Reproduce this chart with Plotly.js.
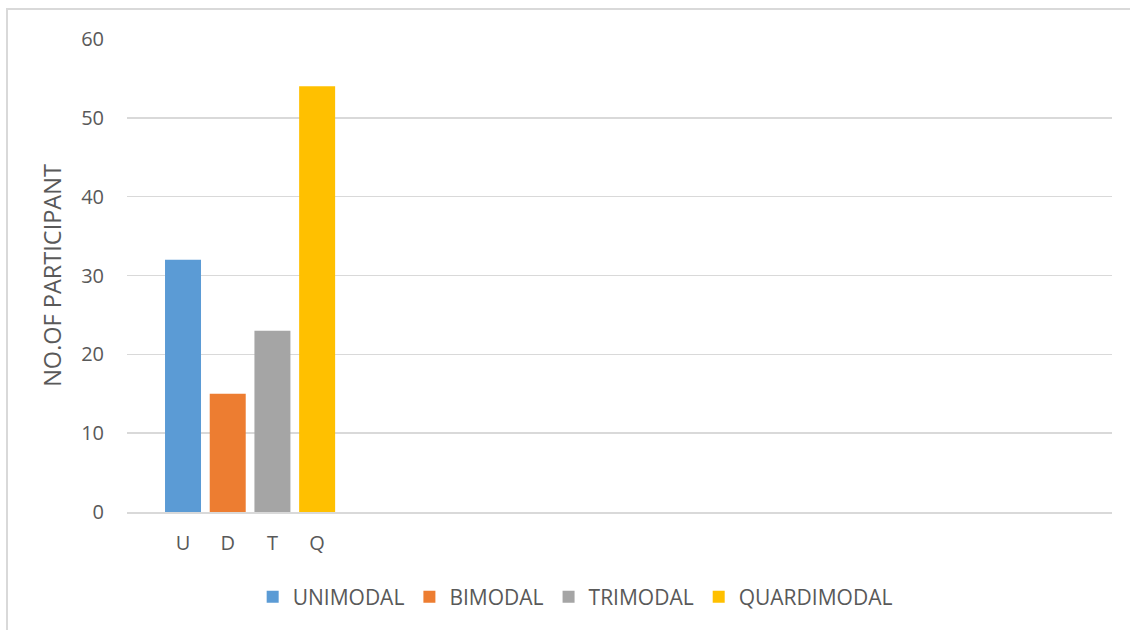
<!DOCTYPE html>
<html>
<head>
<meta charset="utf-8">
<script src="https://cdn.plot.ly/plotly-3.0.1.min.js"></script>
<style>
html,body{margin:0;padding:0;background:#fff;overflow:hidden;}
#frame{position:absolute;left:6px;top:8px;width:1140px;height:640px;border:2px solid #d9d9d9;box-sizing:border-box;}
#chart{position:absolute;left:0;top:0;width:1130px;height:630px;}
</style>
</head>
<body>
<div id="frame"></div>
<div id="chart"></div>
<script>
const categories = ["U", "D", "T", "Q"];
const seriesNames = ["UNIMODAL", "BIMODAL", "TRIMODAL", "QUARDIMODAL"];
const values = [32, 15, 23, 54];
const colors = ["#5b9bd5", "#ed7d31", "#a5a5a5", "#ffc000"];
const yTicks = [0, 10, 20, 30, 40, 50, 60];

const traces = categories.map((c, i) => ({
  type: "bar",
  name: seriesNames[i],
  x: [c],
  y: [values[i]],
  width: 0.805,
  marker: {color: colors[i]},
  hoverinfo: "x+y+name"
}));

const layout = {
  width: 1130,
  height: 630,
  paper_bgcolor: "rgba(0,0,0,0)",
  plot_bgcolor: "rgba(0,0,0,0)",
  margin: {l: 127, r: 18, t: 38.5, b: 118},
  barmode: "overlay",
  font: {family: "Open Sans, sans-serif", color: "#595959", size: 21},
  xaxis: {
    type: "category",
    categoryorder: "array",
    categoryarray: categories,
    range: [-1.253, 20.78],
    showgrid: false,
    zeroline: false,
    showline: true,
    linecolor: "#d9d9d9",
    linewidth: 1.5,
    ticks: "",
    tickfont: {size: 20, color: "#595959"},
    ticklabelstandoff: 12,
    fixedrange: true
  },
  yaxis: {
    range: [0, 60],
    tickvals: yTicks,
    showgrid: true,
    gridcolor: "#d9d9d9",
    gridwidth: 1.5,
    zeroline: false,
    showline: false,
    ticks: "",
    tickfont: {size: 20, color: "#595959"},
    ticklabelstandoff: 22,
    title: {text: "NO.OF PARTICIPANT", font: {size: 23.5, color: "#595959"}, standoff: 12},
    fixedrange: true
  },
  showlegend: true,
  legend: {
    orientation: "h",
    x: 0.455,
    xanchor: "center",
    y: -0.18,
    yanchor: "middle",
    font: {size: 21, color: "#595959"},
    itemclick: false,
    itemdoubleclick: false
  }
};

Plotly.newPlot("chart", traces, layout, {displayModeBar: false, staticPlot: true});
</script>
</body>
</html>
